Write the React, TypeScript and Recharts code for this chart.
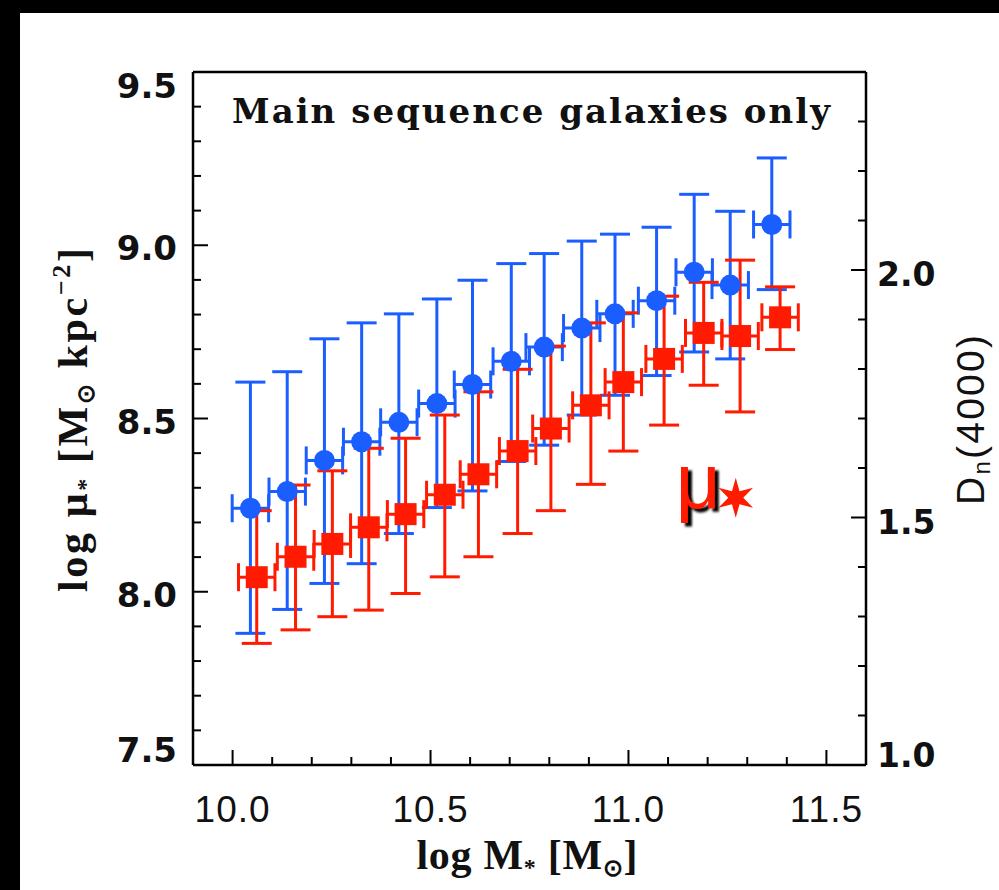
import React from 'react';
import { ComposedChart, Scatter, XAxis, YAxis, ErrorBar, ReferenceDot } from 'recharts';

// ---- data ----
const blueM = [10.045, 10.138, 10.232, 10.326, 10.42, 10.516, 10.606, 10.704, 10.787, 10.882, 10.966, 11.071, 11.166, 11.257, 11.362];
const blueMu = [8.241, 8.289, 8.379, 8.433, 8.489, 8.543, 8.598, 8.665, 8.706, 8.761, 8.802, 8.84, 8.922, 8.885, 9.06];
const blueHi = [8.605, 8.635, 8.73, 8.776, 8.802, 8.845, 8.899, 8.947, 8.976, 9.012, 9.032, 9.052, 9.147, 9.098, 9.252];
const blueLo = [7.88, 7.949, 8.024, 8.081, 8.168, 8.243, 8.291, 8.376, 8.423, 8.51, 8.567, 8.624, 8.692, 8.672, 8.872];
const blueXErr = [0.046, 0.046, 0.046, 0.046, 0.046, 0.046, 0.046, 0.046, 0.046, 0.046, 0.046, 0.046, 0.046, 0.046, 0.046];

const redM = [10.061, 10.159, 10.252, 10.344, 10.437, 10.536, 10.621, 10.72, 10.804, 10.905, 10.987, 11.09, 11.19, 11.282, 11.383];
const redMu = [8.042, 8.101, 8.138, 8.186, 8.224, 8.28, 8.339, 8.406, 8.471, 8.538, 8.605, 8.672, 8.747, 8.738, 8.792];
const redHi = [8.234, 8.308, 8.349, 8.414, 8.443, 8.51, 8.577, 8.642, 8.709, 8.776, 8.805, 8.853, 8.893, 8.957, 8.88];
const redLo = [7.851, 7.89, 7.928, 7.947, 7.995, 8.043, 8.101, 8.168, 8.234, 8.31, 8.406, 8.481, 8.596, 8.519, 8.699];
const redXErr = [0.046, 0.046, 0.046, 0.046, 0.046, 0.046, 0.046, 0.046, 0.046, 0.046, 0.046, 0.046, 0.046, 0.046, 0.046];

// ---- axes ----
const xDomain = [9.9, 11.6];
const xTicks = [10.0, 10.1, 10.2, 10.3, 10.4, 10.5, 10.6, 10.7, 10.8, 10.9, 11.0, 11.1, 11.2, 11.3, 11.4, 11.5];
const xMajor = [10.0, 10.5, 11.0, 11.5];
const yDomain = [7.5, 9.5];
const yTicks = [7.5, 7.6, 7.7, 7.8, 7.9, 8.0, 8.1, 8.2, 8.3, 8.4, 8.5, 8.6, 8.7, 8.8, 8.9, 9.0, 9.1, 9.2, 9.3, 9.4, 9.5];
const yMajor = [7.5, 8.0, 8.5, 9.0, 9.5];
const dnDomain = [1.0, 2.4];
const dnTicks = [1.0, 1.1, 1.2, 1.3, 1.4, 1.5, 1.6, 1.7, 1.8, 1.9, 2.0, 2.1, 2.2, 2.3, 2.4];
const dnMajor = [1.0, 1.5, 2.0];

const annotationPos = { m: 11.271, mu: 8.271 };

const BLUE = '#1a5eff';
const RED = '#ff1a00';
const INK = '#111';

const blueData = blueM.map((m, i) => ({
  m,
  mu: blueMu[i],
  ex: blueXErr[i],
  ey: [blueMu[i] - blueLo[i], blueHi[i] - blueMu[i]],
}));
const redData = redM.map((m, i) => ({
  m,
  mu: redMu[i],
  ex: redXErr[i],
  ey: [redMu[i] - redLo[i], redHi[i] - redMu[i]],
}));

const isMajor = (v: number, majors: number[]) => majors.some((t) => Math.abs(t - v) < 1e-6);
const MAJ = 15;
const MIN = 8;

const LeftTick = (props: any) => {
  const { x, y, payload } = props;
  const v = payload.value;
  const major = isMajor(v, yMajor);
  let dy = 15;
  if (Math.abs(v - yDomain[1]) < 1e-6) dy = 26;
  if (Math.abs(v - yDomain[0]) < 1e-6) dy = -3;
  return (
    <g>
      <line x1={x} x2={x + (major ? MAJ : MIN)} y1={y} y2={y} stroke="#000" strokeWidth={2} />
      {major && (
        <text x={x - 16} y={y} dy={dy} textAnchor="end" fontFamily="DejaVu Sans" fontWeight="bold" fontSize={34} fill={INK}>
          {v.toFixed(1)}
        </text>
      )}
    </g>
  );
};

const RightTick = (props: any) => {
  const { x, y, payload } = props;
  const v = payload.value;
  const major = isMajor(v, dnMajor);
  let dy = 16;
  if (Math.abs(v - dnDomain[0]) < 1e-6) dy = 2;
  return (
    <g>
      <line x1={x} x2={x - (major ? MAJ : MIN)} y1={y} y2={y} stroke="#000" strokeWidth={2} />
      {major && (
        <text x={x + 11} y={y} dy={dy} textAnchor="start" fontFamily="DejaVu Sans" fontWeight="bold" fontSize={33} fill={INK}>
          {v.toFixed(1)}
        </text>
      )}
    </g>
  );
};

const BottomTick = (props: any) => {
  const { x, y, payload } = props;
  const v = payload.value;
  const major = isMajor(v, xMajor);
  return (
    <g>
      <line x1={x} x2={x} y1={y} y2={y - (major ? MAJ : MIN)} stroke="#000" strokeWidth={2} />
      {major && (
        <text x={x} y={y} dy={57} textAnchor="middle" fontFamily="Liberation Sans" fontSize={37} letterSpacing={1} fill={INK}>
          {v.toFixed(1)}
        </text>
      )}
    </g>
  );
};

const TopTick = (props: any) => {
  const { x, y, payload } = props;
  const major = isMajor(payload.value, xMajor);
  return <line x1={x} x2={x} y1={y} y2={y + (major ? MAJ : MIN)} stroke="#000" strokeWidth={2} />;
};

const BlueDot = (props: any) => {
  const { cx, cy } = props;
  if (cx == null || cy == null) return null;
  return <circle cx={cx} cy={cy} r={10.5} fill={BLUE} />;
};
const RedSquare = (props: any) => {
  const { cx, cy } = props;
  if (cx == null || cy == null) return null;
  return <rect x={cx - 11} y={cy - 11} width={22} height={22} fill={RED} />;
};

const MuStar = (props: any) => {
  const { cx, cy } = props;
  if (cx == null || cy == null) return null;
  const pts: string[] = [];
  for (let k = 0; k < 12; k++) {
    const r = k % 2 === 0 ? 20 : 7.5;
    const a = (Math.PI / 6) * k - Math.PI / 2;
    pts.push(`${cx + r * Math.cos(a)},${cy + r * Math.sin(a)}`);
  }
  return (
    <g>
      <defs>
        <filter id="muShadow" x="-30%" y="-30%" width="160%" height="160%">
          <feDropShadow dx="4" dy="3.5" stdDeviation="1.2" floodColor="#000" floodOpacity="1" />
        </filter>
      </defs>
      <text x={cx - 60} y={cy + 10} fontFamily="Liberation Sans" fontSize={78} fill={RED} filter="url(#muShadow)">
        μ
      </text>
      <polygon points={pts.join(' ')} fill={RED} />
    </g>
  );
};

const W = 999;
const H = 890;
const PLOT_LEFT = 193;
const PLOT_TOP = 72;
const PLOT_RIGHT = 866;
const PLOT_BOTTOM = 765;
const LEFT_W = 150;
const RIGHT_W = 100;
const BOTTOM_H = 100;
const TOP_H = 1;

export default function App() {
  return (
    <div style={{ position: 'absolute', left: 0, top: 0, width: W, height: H, background: '#000', overflow: 'hidden' }}>
      <div style={{ position: 'absolute', left: 20, top: 13, width: W - 20, height: H - 13, background: '#fff' }} />
      <div style={{ position: 'absolute', left: 0, top: 0 }}>
        <ComposedChart
          width={W}
          height={H}
          margin={{
            top: PLOT_TOP - TOP_H,
            left: PLOT_LEFT - LEFT_W,
            right: W - PLOT_RIGHT - RIGHT_W,
            bottom: H - PLOT_BOTTOM - BOTTOM_H,
          }}
        >
          <XAxis
            xAxisId="bottom"
            dataKey="m"
            type="number"
            domain={xDomain}
            allowDataOverflow
            ticks={xTicks}
            interval={0}
            tickSize={0}
            tickMargin={0}
            tickLine={false}
            tick={BottomTick}
            height={BOTTOM_H}
            axisLine={{ stroke: '#000', strokeWidth: 2.5 }}
          />
          <XAxis
            xAxisId="top"
            orientation="top"
            type="number"
            domain={xDomain}
            allowDataOverflow
            ticks={xTicks}
            interval={0}
            tickSize={0}
            tickMargin={0}
            tickLine={false}
            tick={TopTick}
            height={TOP_H}
            axisLine={{ stroke: '#000', strokeWidth: 2.5 }}
          />
          <YAxis
            yAxisId="left"
            dataKey="mu"
            type="number"
            domain={yDomain}
            allowDataOverflow
            ticks={yTicks}
            interval={0}
            tickSize={0}
            tickMargin={0}
            tickLine={false}
            tick={LeftTick}
            width={LEFT_W}
            axisLine={{ stroke: '#000', strokeWidth: 2.5 }}
          />
          <YAxis
            yAxisId="right"
            orientation="right"
            type="number"
            domain={dnDomain}
            allowDataOverflow
            ticks={dnTicks}
            interval={0}
            tickSize={0}
            tickMargin={0}
            tickLine={false}
            tick={RightTick}
            width={RIGHT_W}
            axisLine={{ stroke: '#000', strokeWidth: 2.5 }}
          />
          <Scatter
            data={blueData}
            xAxisId="bottom"
            yAxisId="left"
            dataKey="mu"
            fill={BLUE}
            shape={BlueDot}
            isAnimationActive={false}
          >
            <ErrorBar dataKey="ey" direction="y" width={15} stroke={BLUE} strokeWidth={3} isAnimationActive={false} />
            <ErrorBar dataKey="ex" direction="x" width={14} stroke={BLUE} strokeWidth={3} isAnimationActive={false} />
          </Scatter>
          <Scatter
            data={redData}
            xAxisId="bottom"
            yAxisId="left"
            dataKey="mu"
            fill={RED}
            shape={RedSquare}
            isAnimationActive={false}
          >
            <ErrorBar dataKey="ey" direction="y" width={15} stroke={RED} strokeWidth={3} isAnimationActive={false} />
            <ErrorBar dataKey="ex" direction="x" width={14} stroke={RED} strokeWidth={3} isAnimationActive={false} />
          </Scatter>
          <ReferenceDot
            xAxisId="bottom"
            yAxisId="left"
            x={annotationPos.m}
            y={annotationPos.mu}
            shape={MuStar}
          />
        </ComposedChart>
      </div>
      <svg width={W} height={H} style={{ position: 'absolute', left: 0, top: 0, pointerEvents: 'none' }}>
        <text x={232} y={123} fontFamily="DejaVu Serif" fontWeight="bold" fontSize={34} textLength={598} lengthAdjust="spacing" fill={INK}>
          Main sequence galaxies only
        </text>
        <text
          x={527}
          y={869}
          textAnchor="middle"
          fontFamily="Liberation Serif"
          fontWeight="bold"
          fontSize={42}
          textLength={221}
          lengthAdjust="spacing"
          fill={INK}
        >
          log M<tspan fontSize={24} dy={6}>*</tspan>
          <tspan dy={-6}> [M</tspan>
          <tspan fontSize={24} dy={7}>⊙</tspan>
          <tspan dy={-7}>]</tspan>
        </text>
        <text
          transform="translate(87,420) rotate(-90)"
          x={0}
          y={0}
          textAnchor="middle"
          fontFamily="Liberation Serif"
          fontWeight="bold"
          fontSize={42}
          textLength={344}
          lengthAdjust="spacing"
          fill={INK}
        >
          log μ<tspan fontSize={24} dy={6}>*</tspan>
          <tspan dy={-6}> [M</tspan>
          <tspan fontSize={24} dy={7}>⊙</tspan>
          <tspan dy={-7}> kpc</tspan>
          <tspan fontSize={26} dy={-17}>−2</tspan>
          <tspan dy={17}>]</tspan>
        </text>
        <text
          transform="translate(984,420) rotate(-90)"
          x={0}
          y={0}
          textAnchor="middle"
          fontFamily="Liberation Sans"
          fontSize={39}
          textLength={170}
          lengthAdjust="spacing"
          fill={INK}
        >
          D<tspan fontSize={24} dy={6}>n</tspan>
          <tspan dy={-6}>(4000)</tspan>
        </text>
      </svg>
    </div>
  );
}
